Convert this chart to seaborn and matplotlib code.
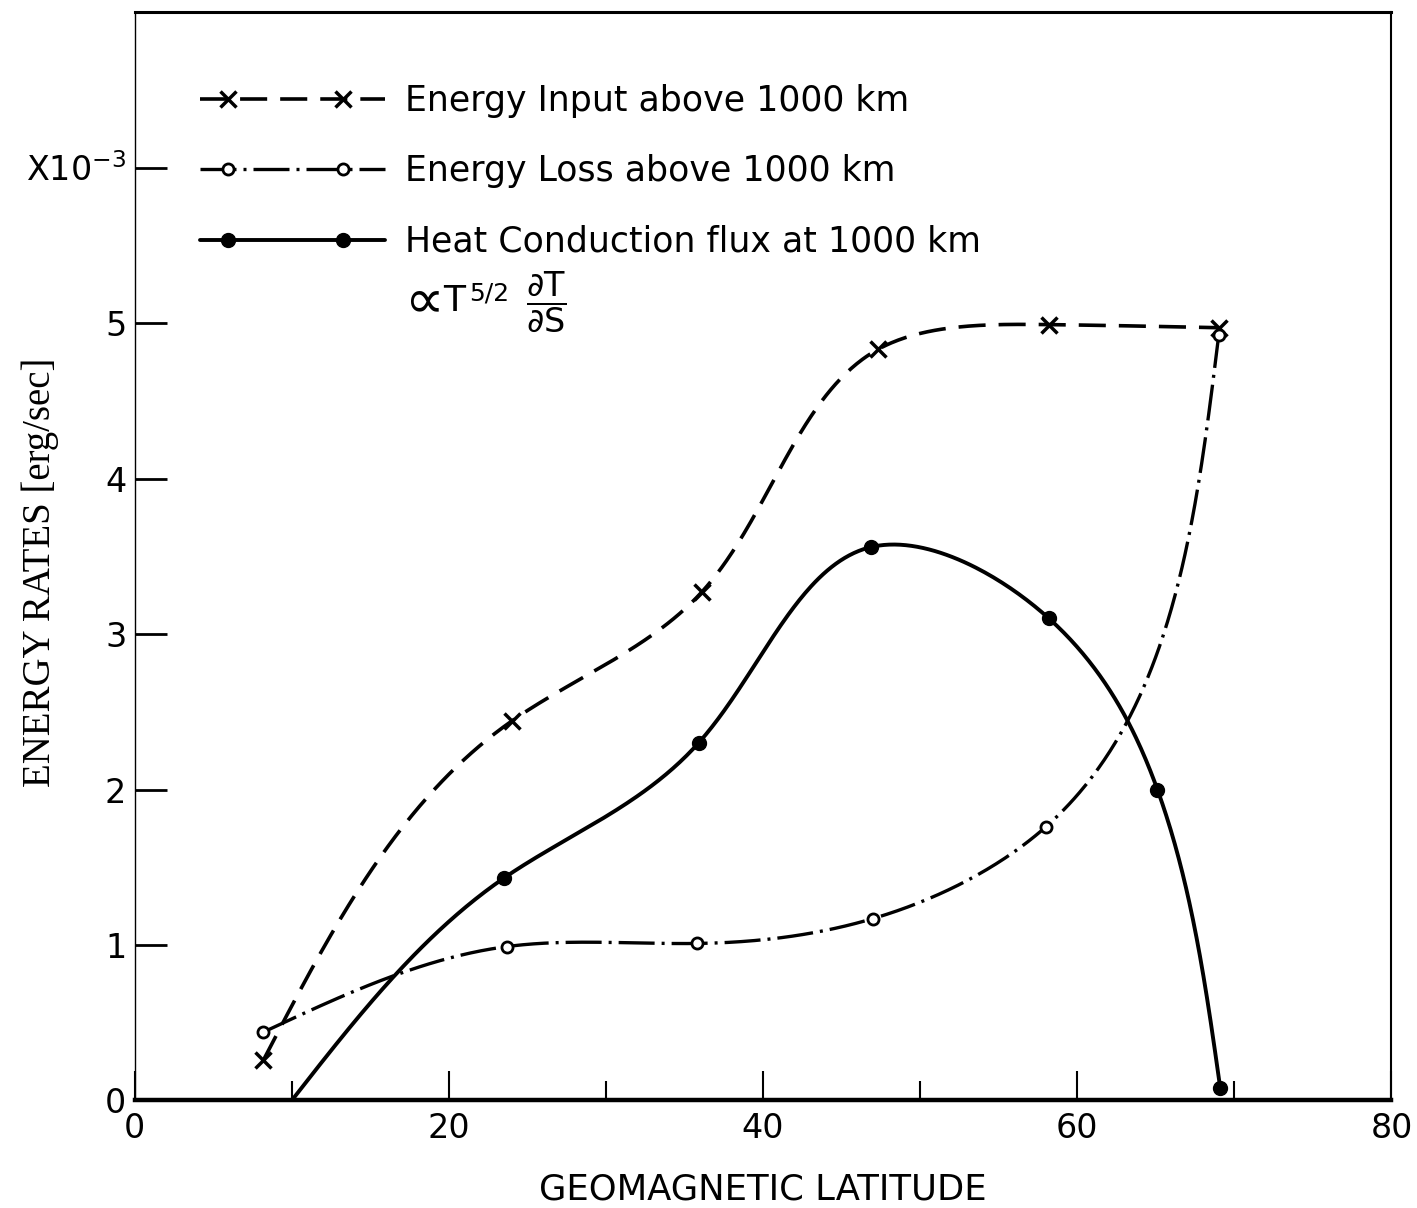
import numpy as np
import matplotlib
matplotlib.use("Agg")
import matplotlib.pyplot as plt
import seaborn as sns
from matplotlib.lines import Line2D
from matplotlib.legend_handler import HandlerLine2D

# values (latitude in deg, rates in units of 1e-3 erg/sec)
input_lat = [8.2, 24.0, 36.1, 47.3, 58.2, 69.0]
input_rate = [0.26, 2.44, 3.27, 4.83, 4.99, 4.97]

loss_lat = [8.2, 23.7, 35.8, 47.0, 58.0, 69.0]
loss_rate = [0.44, 0.99, 1.01, 1.17, 1.76, 4.92]

# first heat point is where the curve leaves the axis (no marker there)
heat_lat = [10.0, 23.5, 35.9, 46.9, 58.2, 65.1, 69.1]
heat_rate = [0.0, 1.43, 2.30, 3.56, 3.10, 2.00, 0.08]

labels = ["Energy Input above 1000 km",
          "Energy Loss above 1000 km",
          "Heat Conduction flux at 1000 km"]
x_ticks = [0, 20, 40, 60, 80]
x_minor = [10, 30, 50, 70]
y_ticks = [0, 1, 2, 3, 4, 5, 6]
y_ticklabels = ["0", "1", "2", "3", "4", "5", "X10$^{-3}$"]


def natural_spline(t, v, tt):
    n = len(t)
    h = np.diff(t)
    A = np.zeros((n, n))
    r = np.zeros(n)
    A[0, 0] = A[-1, -1] = 1
    for i in range(1, n - 1):
        A[i, i - 1] = h[i - 1]
        A[i, i] = 2 * (h[i - 1] + h[i])
        A[i, i + 1] = h[i]
        r[i] = 3 * ((v[i + 1] - v[i]) / h[i] - (v[i] - v[i - 1]) / h[i - 1])
    c = np.linalg.solve(A, r)
    b = (v[1:] - v[:-1]) / h - h * (2 * c[:-1] + c[1:]) / 3
    d = (c[1:] - c[:-1]) / (3 * h)
    k = np.clip(np.searchsorted(t, tt) - 1, 0, n - 2)
    dt = tt - t[k]
    return v[k] + b[k] * dt + c[k] * dt ** 2 + d[k] * dt ** 3


def smooth(xs, ys, n=500):
    # parametric spline on chord length (screen proportions), like a french curve
    xs = np.asarray(xs, float)
    ys = np.asarray(ys, float)
    px, py = xs / 80 * 1.155, ys / 7
    t = np.concatenate([[0], np.cumsum(np.hypot(np.diff(px), np.diff(py)))])
    tt = np.linspace(0, t[-1], n)
    return natural_spline(t, xs, tt), natural_spline(t, ys, tt)


class HandlerLongLine(HandlerLine2D):
    # line runs the full handle length, the two markers sit inside it
    def create_artists(self, legend, orig_handle, xdescent, ydescent,
                       width, height, fontsize, trans):
        x0 = -xdescent
        xdata = np.array([x0, x0 + 0.8 * fontsize,
                          x0 + width - 1.2 * fontsize, x0 + width])
        ydata = np.full_like(xdata, (height - ydescent) / 2)
        legline = Line2D(xdata, ydata)
        self.update_prop(legline, orig_handle, legend)
        legline.set_markevery([1, 2])
        legline.set_transform(trans)
        return [legline]


sns.set_style("ticks", {"axes.edgecolor": "black", "text.color": "black",
                        "xtick.color": "black", "ytick.color": "black",
                        "axes.labelcolor": "black"})
plt.rcParams["font.family"] = ["DejaVu Sans"]
plt.rcParams["mathtext.fontset"] = "dejavusans"

fig, ax = plt.subplots(figsize=(14.17, 12.08), dpi=100)
fig.subplots_adjust(left=0.095, right=0.982, bottom=0.089, top=0.99)

ls_input = (0, (7.5, 3.6))
ls_loss = (0, (10.8, 2.1, 0.9, 2.1))

sx, sy = smooth(input_lat, input_rate)
sns.lineplot(x=sx, y=sy, sort=False, estimator=None, color="black",
             lw=2.6, linestyle=ls_input, ax=ax)
sx, sy = smooth(loss_lat, loss_rate)
sns.lineplot(x=sx, y=sy, sort=False, estimator=None, color="black",
             lw=2.4, linestyle=ls_loss, ax=ax)
sx, sy = smooth(heat_lat, heat_rate)
sns.lineplot(x=sx, y=sy, sort=False, estimator=None, color="black",
             lw=2.8, ax=ax)

ax.plot(input_lat, input_rate, ls="none", marker="x", ms=11, mew=2.5, color="black")
ax.plot(loss_lat, loss_rate, ls="none", marker="o", ms=8, mew=2, mfc="white", color="black")
ax.plot(heat_lat[1:], heat_rate[1:], ls="none", marker="o", ms=10, color="black")

handles = [
    Line2D([], [], color="black", lw=2.6, ls=ls_input, marker="x", ms=11, mew=2.5),
    Line2D([], [], color="black", lw=2.4, ls=ls_loss, marker="o", ms=8, mew=2, mfc="white"),
    Line2D([], [], color="black", lw=2.8, marker="o", ms=10),
]
ax.legend(handles, labels, loc="upper left", bbox_to_anchor=(0.052, 0.934),
          frameon=False, fontsize=25, handlelength=5.33, handletextpad=0.58,
          labelspacing=1.05, borderaxespad=0, borderpad=0,
          handler_map={Line2D: HandlerLongLine()})

# second line of the heat conduction label:  ∝T^(5/2) dT/dS
t0 = ax.text(0.214, 0.733, "\u221d", transform=ax.transAxes, fontsize=40,
             va="center", ha="left")
t1 = ax.annotate("T", xy=(1, 0.5), xycoords=t0, xytext=(0, 1),
                 textcoords="offset points", fontsize=26, va="center", ha="left")
t2 = ax.annotate("5/2", xy=(1, 1), xycoords=t1, xytext=(3, 2),
                 textcoords="offset points", fontsize=18, va="top", ha="left")
ax.annotate("$\\dfrac{\\partial\\mathrm{T}}{\\partial\\mathrm{S}}$",
            xy=(1, 0.5), xycoords=(t2, t1), xytext=(12, 0),
            textcoords="offset points", fontsize=24, va="center", ha="left")

ax.set_xlim(0, 80)
ax.set_ylim(0, 7)
ax.set_xticks(x_ticks)
ax.set_xticks(x_minor, minor=True)
ax.set_yticks(y_ticks, y_ticklabels)
ax.tick_params(axis="x", which="major", direction="in", length=21, width=1.5,
               labelsize=24, pad=8)
ax.tick_params(axis="x", which="minor", direction="in", length=14, width=1.5)
ax.tick_params(axis="y", direction="in", length=23, width=2, labelsize=24, pad=6)

ax.set_xlabel("GEOMAGNETIC LATITUDE", fontsize=25.5, labelpad=20)
ax.set_ylabel("ENERGY RATES [erg/sec]", fontsize=28, fontfamily="Liberation Serif")
ax.yaxis.set_label_coords(-0.06, 0.485)

ax.spines["top"].set_linewidth(2.2)
ax.spines["bottom"].set_linewidth(3.2)
ax.spines["left"].set_linewidth(1.0)
ax.spines["right"].set_linewidth(1.5)

fig.savefig("out.png", dpi=100)
